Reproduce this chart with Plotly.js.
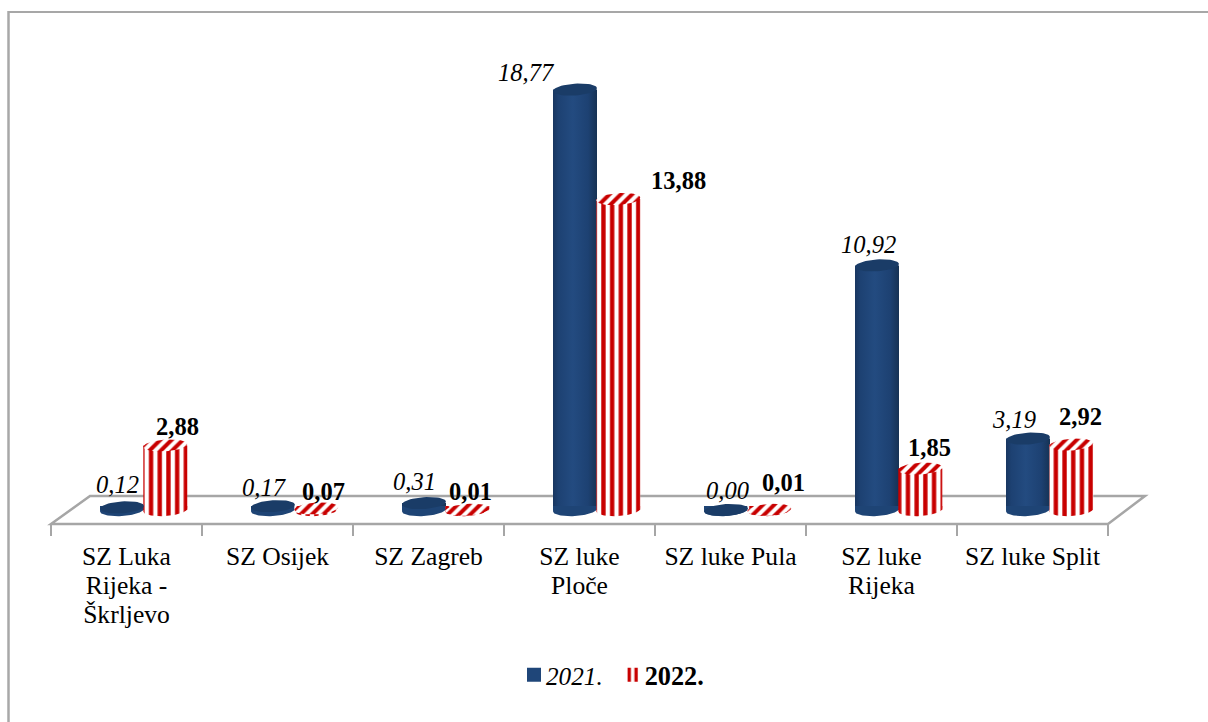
<!DOCTYPE html>
<html><head><meta charset="utf-8">
<script src="https://cdn.plot.ly/plotly-3.0.1.min.js"></script>
<style>html,body{margin:0;padding:0;background:#fff}#c{width:1208px;height:722px}</style>
</head><body><div id="c"></div>
<script>
const categories = ['SZ Luka<br>Rijeka -<br>Škrljevo','SZ Osijek','SZ Zagreb','SZ luke<br>Ploče','SZ luke Pula','SZ luke<br>Rijeka','SZ luke Split'];
const values2021 = [0.12,0.17,0.31,18.77,0.00,10.92,3.19];
const values2022 = [2.88,0.07,0.01,13.88,0.01,1.85,2.92];
const name2021 = '<span style="font-size:25.2px"><i>2021.</i></span>';
const name2022 = '<span style="font-size:26.3px"><b>2022.</b></span>';

// label nudges from each bar top, in pixels
const nudgeX2021 = [-9.5,-13.5,-14.5,-53.5,-3.5,-13.5,-18.5];
const nudgeY2021 = [23,19,22,17.5,20,21,19.5];
const nudgeX2022 = [50.5,45.5,41.5,98.5,52.5,47.5,47.5];
const nudgeY2022 = [19,17,18,18.5,27,21.5,28.5];

// geometry in pixels of the drawing
const W = 1208, H = 722;
const L = 51, R = 1108, T = 40, B = 524;
const pxPerCat = (R-L)/7, pxPerUnit = 22.4, zeroPx = 510;
const barW = 44/pxPerCat, off21 = -26.5/pxPerCat, off22 = 16.8/pxPerCat;
const yMin = (zeroPx-B)/pxPerUnit, yMax = (zeroPx-T)/pxPerUnit;
const BLUE = '#1f4679', RED = '#c80000';
const fontFam = '"Liberation Serif","Times New Roman",serif';
const cats = categories.map((c,i)=>i);

function ellipse(values, offset, half){
  const xs=[], ys=[];
  const a=22, b=half?6:5.9, tilt=-4*Math.PI/180;
  values.forEach((v,i)=>{
    const cx=i+offset+barW/2, cy=half?0:v;
    const n=48, end=half?Math.PI:2*Math.PI;
    for(let k=0;k<=n;k++){
      const t=end*k/n;
      const px=a*Math.cos(t), py=b*Math.sin(t);
      const rx=px*Math.cos(tilt)-py*Math.sin(tilt), ry=px*Math.sin(tilt)+py*Math.cos(tilt);
      xs.push(cx+rx/pxPerCat); ys.push(cy-ry/pxPerUnit);
    }
    if(half){ // close a little inside the bar, so no seam shows
      xs.push(cx-a/pxPerCat, cx+a/pxPerCat);
      ys.push(cy+4/pxPerUnit, cy+4/pxPerUnit);
    }
    xs.push(null); ys.push(null);
  });
  return {x:xs,y:ys};
}
const xIdx = cats;
const stripes = {shape:'|',bgcolor:'#ffffff',fgcolor:RED,size:8.7,solidity:0.5};
const slants = {shape:'/',bgcolor:'#ffffff',fgcolor:RED,size:8,solidity:0.5};
const capCommon = {type:'scatter',mode:'lines',line:{width:0},fill:'toself',hoverinfo:'skip',showlegend:false};

const traces = [
  {type:'bar',name:name2021,x:xIdx,y:values2021,width:barW,offset:off21,marker:{color:BLUE,line:{width:0}},hoverinfo:'skip'},
  {type:'bar',name:name2022,x:xIdx,y:values2022,width:barW,offset:off22,marker:{color:'#fff',line:{width:0},pattern:stripes},hoverinfo:'skip'},
  {type:'bar',x:xIdx,y:values2022,width:barW,offset:off22,marker:{color:'rgba(0,0,0,0)',line:{width:0}},showlegend:false,hoverinfo:'skip'},
  Object.assign({},capCommon,ellipse(values2021,off21,true),{fillcolor:'#1e4475'}),
  Object.assign({},capCommon,ellipse(values2022,off22,true),{fillcolor:'#fff',fillpattern:stripes}),
  Object.assign({},capCommon,ellipse(values2021,off21,false),{fillcolor:'#1a3c67'}),
  Object.assign({},capCommon,ellipse(values2022,off22,false),{fillcolor:'#fff',fillpattern:slants})
];

const fmt = v => v.toFixed(2).replace('.',',');
const annotations = [];
values2021.forEach((v,i)=>annotations.push({x:i,y:v,xref:'x',yref:'y',text:'<i>'+fmt(v)+'</i>',showarrow:false,xshift:nudgeX2021[i],yshift:nudgeY2021[i],font:{family:fontFam,size:24.5,color:'#000'}}));
values2022.forEach((v,i)=>annotations.push({x:i,y:v,xref:'x',yref:'y',text:'<b>'+fmt(v)+'</b>',showarrow:false,xshift:nudgeX2022[i],yshift:nudgeY2022[i],font:{family:fontFam,size:24.5,color:'#000'}}));

const px = p => (p-L)/(R-L), py = p => (B-p)/(B-T);
const GRID = '#a6a6a6';
const shapes = [
  {type:'path',xref:'paper',yref:'paper',layer:'below',
   path:`M ${px(51)} ${py(524)} L ${px(90)} ${py(496)} L ${px(1145)} ${py(496)} L ${px(1108)} ${py(524)} Z`,
   line:{color:GRID,width:2.5},fillcolor:'rgba(255,255,255,0)'},
  {type:'line',xref:'paper',yref:'paper',x0:px(8),x1:px(1208),y0:py(12),y1:py(12),line:{color:'#8a8a8a',width:1.5}},
  {type:'line',xref:'paper',yref:'paper',x0:px(8.5),x1:px(8.5),y0:py(11),y1:py(722),line:{color:'#a8a8a8',width:2.5}}
];

const layout = {
  width:W,height:H,margin:{l:L,r:W-R,t:T,b:H-B,pad:0},
  paper_bgcolor:'#fff',plot_bgcolor:'rgba(0,0,0,0)',
  barmode:'overlay',showlegend:true,
  font:{family:fontFam,color:'#000',size:25},
  xaxis:{type:'linear',range:[-0.5,6.5],tickmode:'array',tickvals:cats,ticktext:categories,
    ticks:'',showgrid:false,zeroline:false,showline:false,tickfont:{family:fontFam,size:25.6,color:'#000'},ticklabelstandoff:14,fixedrange:true,
    minor:{tickmode:'array',tickvals:[-0.5,0.5,1.5,2.5,3.5,4.5,5.5,6.5],ticks:'outside',ticklen:11,tickcolor:GRID,tickwidth:2,showgrid:false}},
  yaxis:{range:[yMin,yMax],visible:false,fixedrange:true},
  legend:{orientation:'h',x:px(508),y:py(652),xanchor:'left',yanchor:'top',font:{family:fontFam,size:25,color:'#000'},bgcolor:'rgba(0,0,0,0)',traceorder:'normal',itemwidth:30,tracegroupgap:0},
  annotations,shapes
};

const legendMoves = [{swatch:6, text:-8, half:7},{swatch:3, text:-8, half:5.5}];

Plotly.newPlot('c',traces,layout,{displayModeBar:false,staticPlot:true}).then(gd=>{
  const svg = gd.querySelector('.main-svg');
  const NS='http://www.w3.org/2000/svg';
  const mk=(id,stops)=>{
    const g=document.createElementNS(NS,'linearGradient');
    g.setAttribute('id',id);
    stops.forEach(([o,c,a])=>{const s=document.createElementNS(NS,'stop');s.setAttribute('offset',o);s.setAttribute('stop-color',c);s.setAttribute('stop-opacity',a);g.appendChild(s);});
    svg.querySelector('defs').appendChild(g);
  };
  mk('blueShade',[[0,'#183660',1],[0.12,'#1d4172',1],[0.45,'#234b80',1],[0.8,'#1d4172',1],[1,'#163254',1]]);
  mk('redShade',[[0,'#555',0.55],[0.12,'#555',0.12],[0.5,'#555',0],[0.88,'#555',0.12],[1,'#555',0.55]]);
  const bars = gd.querySelectorAll('.barlayer .trace');
  bars[0].querySelectorAll('path').forEach(p=>{p.style.fill='url(#blueShade)';});
  bars[2].querySelectorAll('path').forEach(p=>{p.style.fill='url(#redShade)';});
  gd.querySelectorAll('.xtick text, .xaxislayer-above text').forEach(t=>{
    t.querySelectorAll('tspan.line').forEach((s,i)=>s.setAttribute('dy',(i*29/25.6)+'em'));
  });
  // tighten the legend keys against their text
  gd.querySelectorAll('.legend .traces').forEach((g,i)=>{
    const mv=legendMoves[i]; if(!mv) return;
    const m=/translate\(([-\d.]+),\s*([-\d.]+)\)/.exec(g.getAttribute('transform')||'');
    if(m) g.setAttribute('transform',`translate(${+m[1]+mv.swatch},${+m[2]})`);
    const t=g.querySelector('text.legendtext');
    if(t){
      t.setAttribute('x',+t.getAttribute('x')+mv.text);
      t.querySelectorAll('tspan.line').forEach(s=>s.setAttribute('x',+t.getAttribute('x')));
    }
    g.querySelectorAll('.legendpoints path').forEach(p=>{p.setAttribute('d',`M${mv.half},7H${-mv.half}V-7H${mv.half}Z`);});
  });
});
</script></body></html>
